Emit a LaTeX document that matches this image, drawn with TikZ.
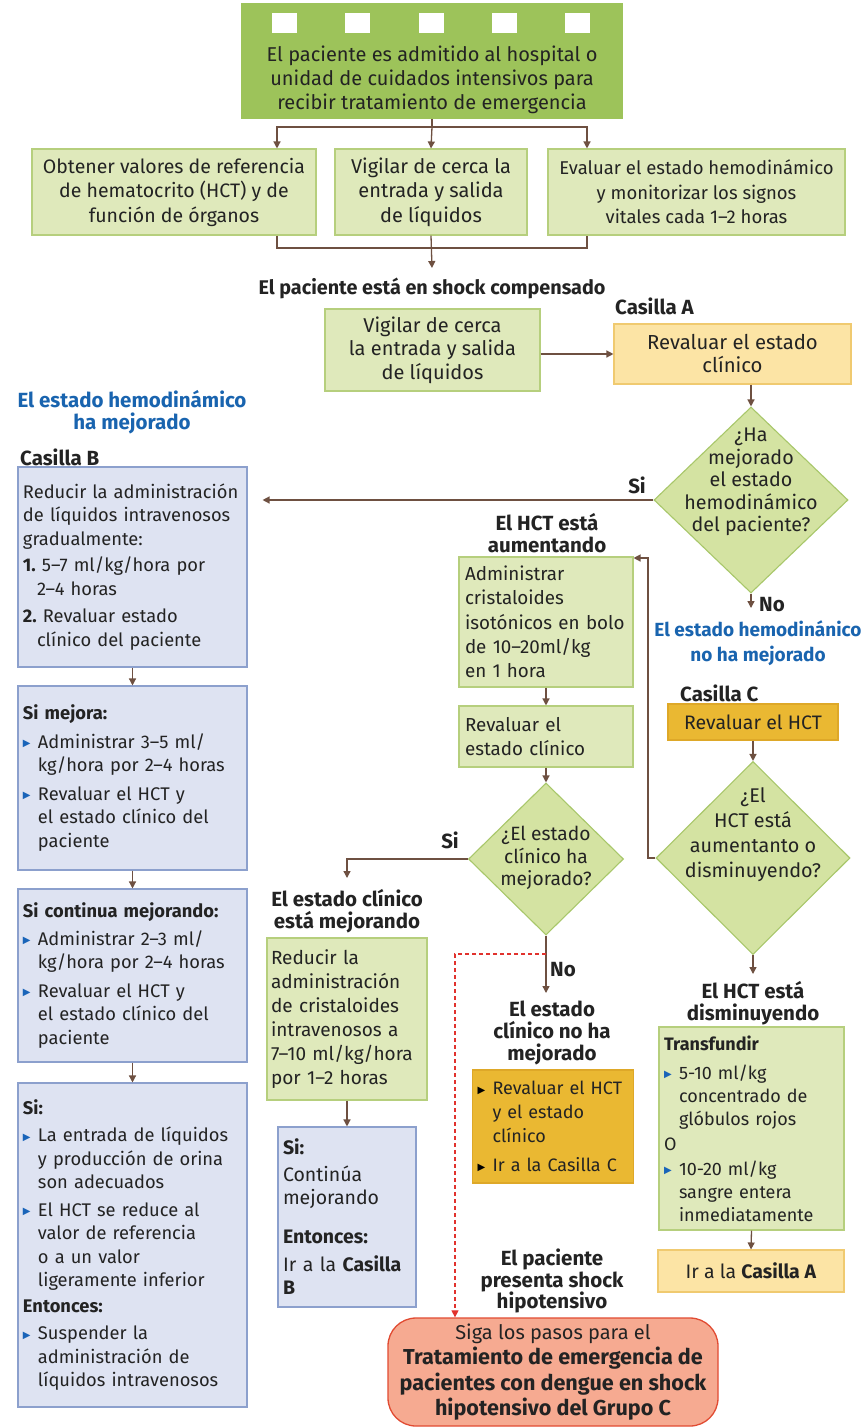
\documentclass[tikz,border=0pt]{standalone}
\usepackage{fontspec}
\setmainfont{Fira Sans}
\newfontfamily\symf{DejaVu Sans}
\usetikzlibrary{shapes.geometric,arrows.meta,calc}
\definecolor{txt}{RGB}{35,35,35}
\definecolor{topg}{RGB}{157,195,90}
\definecolor{gfill}{RGB}{223,233,187}
\definecolor{gline}{RGB}{182,207,125}
\definecolor{dfill}{RGB}{212,227,162}
\definecolor{dline}{RGB}{168,199,106}
\definecolor{yfill}{RGB}{252,228,165}
\definecolor{yline}{RGB}{240,202,112}
\definecolor{ofill}{RGB}{234,184,50}
\definecolor{oline}{RGB}{222,168,40}
\definecolor{bfill}{RGB}{222,227,242}
\definecolor{bline}{RGB}{140,160,205}
\definecolor{blu}{RGB}{25,100,175}
\definecolor{bulblue}{RGB}{25,100,185}
\definecolor{arrc}{RGB}{110,80,65}
\definecolor{redd}{RGB}{225,50,45}
\definecolor{ffill}{RGB}{246,170,145}
\definecolor{fline}{RGB}{225,75,50}
\newcommand\sz[2]{\fontsize{#1}{#2}\selectfont}
\newcommand\basefs{\sz{19}{23.5}}
\newcommand\labfs{\sz{20.5}{22}\bfseries}
\newcommand\tri[1][bulblue]{\makebox[15pt][l]{\raisebox{1.5pt}{\textcolor{#1}{\symf\fontsize{10}{10}\selectfont ▶}}}}
\newcommand\ind{\hspace*{15pt}}
\tikzset{
 every node/.style={text=txt, font=\basefs, inner sep=0pt},
 box/.style={draw, line width=1.1pt, align=center},
 gbox/.style={box, draw=gline, fill=gfill},
 ybox/.style={box, draw=yline, fill=yfill},
 obox/.style={box, draw=oline, fill=ofill},
 bbox/.style={box, draw=bline, fill=bfill},
 dia/.style={diamond, draw=dline, fill=dfill, line width=1.1pt, inner sep=0pt},
 lab/.style={font=\labfs, align=center},
 blab/.style={lab, text=blu},
 ln/.style={draw=arrc, line width=1.3pt},
 arr/.style={ln, -{Triangle[width=7pt,length=7pt]}},
 rarr/.style={draw=redd, line width=1.2pt, dash pattern=on 4pt off 3pt, -{Triangle[width=7pt,length=7pt]}}
}
\begin{document}
\begin{tikzpicture}[x=1pt,y=-1pt]
\useasboundingbox[fill=white] (0,0) rectangle (867,1428);
% coordinates
\coordinate (xa) at (277,0);
\coordinate (xc) at (587,0);
\coordinate (sp) at (432,127);
\coordinate (jn) at (432,248);
\coordinate (shEnd) at (432,268);
\coordinate (noEnd) at (751,608);
\coordinate (fb) at (648,558);
\coordinate (dimEnd) at (753,974);
\coordinate (ceEnd) at (347,878);
\coordinate (no3End) at (546,993);
\coordinate (rd) at (546,954);
\coordinate (xr) at (455,0);

% top box
\node[fill=topg, minimum width=382pt, minimum height=116pt] (top) at (432,61) {};
\foreach \x in {284.5,357.5,431.5,504.5,577.5} \fill[white] (\x-12.5,13) rectangle (\x+12.5,33);
\node[align=center, font=\sz{20}{24}] (topt) at (432,80) {El paciente es admitido al hospital o\\unidad de cuidados intensivos para\\recibir tratamiento de emergencia};

% row 1
\node[gbox, minimum width=284pt, minimum height=86pt, font=\sz{19.5}{24.5}] (b1) at (174,192) {Obtener valores de referencia\\de hematocrito (HCT) y de\\función de órganos};
\node[gbox, minimum width=192pt, minimum height=86pt, font=\sz{20}{24.5}] (b2) at (431,192) {Vigilar de cerca la\\entrada y salida\\de líquidos};
\node[gbox, minimum width=297pt, minimum height=86pt, font=\sz{18.5}{24.5}] (b3) at (696.5,192) {Evaluar el estado hemodinámico\\y monitorizar los signos\\vitales cada 1–2 horas};
\draw[ln] (top.south) -- (sp);
\draw[arr] (sp) -- (b2.north);
\draw[arr] (sp) -| (xa |- b1.north);
\draw[arr] (sp) -| (xc |- b3.north);
\draw[ln] (xa |- b1.south) |- (jn) -| (xc |- b3.south);
\draw[arr] (b2.south) -- (shEnd);
\node[lab, font=\sz{19.8}{22}\bfseries] (shock) at (432,288) {El paciente está en shock compensado};

% row 2
\node[gbox, minimum width=215pt, minimum height=82pt, font=\sz{20}{23.5}] (vig) at (432.5,350) {Vigilar de cerca\\la entrada y salida\\de líquidos};
\node[lab, anchor=west] (casAl) at (615,306) {Casilla A};
\node[ybox, minimum width=237pt, minimum height=60pt, font=\sz{20.3}{23}] (casA) at (732.5,354) {Revaluar el estado\\clínico};
\draw[arr] (vig.east |- casA.west) -- (casA.west);

% diamond 1
\node[dia, minimum width=194pt, minimum height=186pt] (d1) at (751,500) {};
\node[align=center, font=\sz{19.7}{22.5}] (d1t) at (751,482) {¿Ha\\mejorado\\el estado\\hemodinámico\\del paciente?};
\draw[arr] (casA.south -| d1.north) -- (d1.north);
\node[lab] (si1) at (637,485) {Si};
\node[lab] (no1) at (772,605) {No};
\draw[arr] (d1.south) -- (noEnd);
\node[blab, font=\sz{19}{24.5}\bfseries] (nohm) at (758,643) {El estado hemodinánico\\no ha mejorado};

% Casilla C
\node[lab, anchor=west] (casCl) at (680,693) {Casilla C};
\node[obox, minimum width=170pt, minimum height=36pt, font=\sz{19.5}{23}] (casC) at (753,722) {Revaluar el HCT};
\node[dia, minimum width=194pt, minimum height=193pt] (d2) at (753,858) {};
\node[align=center, font=\sz{19.8}{25}] (d2t) at (753,835) {¿El\\HCT está\\aumentanto o\\disminuyendo?};
\draw[arr] (casC.south) -- (d2.north);
\draw[arr] (d2.south) -- (dimEnd);
\node[lab] (dim) at (753,1003) {El HCT está\\disminuyendo};
\node[gbox, align=left, text width=175pt, inner xsep=5pt, minimum height=203pt, font=\sz{18}{23}] (trans) at (751.5,1128.5) {\textbf{Transfundir}\\[6pt]
\tri 5-10 ml/kg\\ \ind concentrado de\\ \ind glóbulos rojos\\[2pt]
O\\[2pt]
\tri 10-20 ml/kg\\ \ind sangre entera\\ \ind inmediatamente};
\node[ybox, minimum width=186pt, minimum height=42pt, font=\sz{19.5}{23}] (goA) at (751,1271) {Ir a la \textbf{Casilla A}};
\draw[arr] (trans.south) -- (goA.north);

% middle column
\node[lab] (hctl) at (547,533) {El HCT está\\aumentando};
\node[gbox, align=left, text width=162pt, inner xsep=6pt, minimum height=130pt, font=\sz{18.8}{24.3}] (hct) at (546,622) {Administrar\\cristaloides\\isotónicos en bolo\\de 10–20ml/kg\\en 1 hora};
\draw[arr] (d2.west) -| (fb) -- (fb -| hct.east);
\node[gbox, align=left, text width=162pt, inner xsep=6pt, minimum height=61pt, font=\sz{18.8}{23.5}] (rev) at (546,736.5) {Revaluar el\\estado clínico};
\draw[arr] (hct.south) -- (rev.north);
\node[dia, minimum width=155pt, minimum height=152pt] (d3) at (546,859) {};
\node[align=center, font=\sz{19.2}{22.5}] (d3t) at (546,858) {¿El estado\\clínico ha\\mejorado?};
\draw[arr] (rev.south) -- (d3.north);
\node[lab] (si3) at (450,840) {Si};
\draw[arr] (d3.west) -| (ceEnd);
\node[lab] (cem) at (347,911) {El estado clínico\\está mejorando};
\node[lab] (no3) at (563,970) {No};
\draw[arr] (d3.south) -- (no3End);
\node[lab] (cnml) at (552,1033) {El estado\\clínico no ha\\mejorado};
\node[obox, align=left, text width=151pt, inner xsep=5pt, minimum height=113pt, font=\sz{18}{24}] (cnm) at (553,1126.5) {\tri[black]Revaluar el HCT\\ \ind y el estado\\ \ind clínico\\[5pt] \tri[black]Ir a la Casilla C};

\node[gbox, align=left, text width=152pt, inner xsep=4pt, minimum height=162pt, font=\sz{19}{24}] (rcr) at (347,1019) {Reducir la\\administración\\de cristaloides\\intravenosos a\\7–10 ml/kg/hora\\por 1–2 horas};
\node[bbox, align=left, text width=128pt, inner xsep=5pt, minimum height=180pt, font=\sz{19.5}{23}] (cont) at (347,1217) {\textbf{Si:}\\[4pt] Continúa\\mejorando\\[16pt] \textbf{Entonces:}\\[5pt] Ir a la \textbf{Casilla}\\\textbf{B}};
\draw[arr] (rcr.south) -- (cont.north);

\node[lab, font=\sz{20.5}{21.5}\bfseries] (hipo) at (552,1281) {El paciente\\presenta shock\\hipotensivo};
\node[draw=fline, fill=ffill, line width=1.3pt, rounded corners=28pt, minimum width=330pt, minimum height=108pt, align=center, font=\sz{20}{25.3}] (fin) at (553,1372) {Siga los pasos para el\\{\sz{21.6}{25.3}\bfseries Tratamiento de emergencia de}\\{\sz{21.6}{25.3}\bfseries pacientes con dengue en shock}\\{\sz{21.6}{25.3}\bfseries hipotensivo del Grupo C}};
\draw[rarr] (rd) -| (xr |- fin.north);

% left column
\node[blab] (hm) at (132,412) {El estado hemodinámico\\ha mejorado};
\node[lab, anchor=west] (casBl) at (20,457) {Casilla B};
\node[bbox, align=left, text width=219pt, inner xsep=5pt, minimum height=200pt, font=\sz{18.3}{23.5}] (B1) at (132.5,567) {Reducir la administración\\de líquidos intravenosos\\gradualmente:\\[3pt]
\textbf{1.}~5–7 ml/kg/hora por\\ \hspace*{14pt}2–4 horas\\[4pt]
\textbf{2.}~Revaluar estado\\ \hspace*{14pt}clínico del paciente};
\draw[arr] (d1.west) -- (d1.west -| B1.east) [shorten >=15pt];
\node[bbox, align=left, text width=219pt, inner xsep=5pt, minimum height=184pt, font=\sz{18.3}{23.5}] (B2) at (132.5,778) {\textbf{Si mejora:}\\[5pt]
\tri Administrar 3–5 ml/\\ \ind kg/hora por 2–4 horas\\[5pt]
\tri Revaluar el HCT y\\ \ind el estado clínico del\\ \ind paciente};
\node[bbox, align=left, text width=219pt, inner xsep=5pt, minimum height=173pt, font=\sz{18.3}{23.5}] (B3) at (132.5,975.5) {\textbf{Si continua mejorando:}\\[4pt]
\tri Administrar 2–3 ml/\\ \ind kg/hora por 2–4 horas\\[5pt]
\tri Revaluar el HCT y\\ \ind el estado clínico del\\ \ind paciente};
\node[bbox, align=left, text width=219pt, inner xsep=5pt, minimum height=324pt, font=\sz{18.3}{23.5}] (B4) at (132.5,1245) {\textbf{Si:}\\[4pt]
\tri La entrada de líquidos\\ \ind y producción de orina\\ \ind son adecuados\\[4pt]
\tri El HCT se reduce al\\ \ind valor de referencia\\ \ind o a un valor\\ \ind ligeramente inferior\\[2pt]
\textbf{Entonces:}\\[4pt]
\tri Suspender la\\ \ind administración de\\ \ind líquidos intravenosos};
\draw[arr] (B1.south) -- (B2.north);
\draw[arr] (B2.south) -- (B3.north);
\draw[arr] (B3.south) -- (B4.north);
\end{tikzpicture}
\end{document}
